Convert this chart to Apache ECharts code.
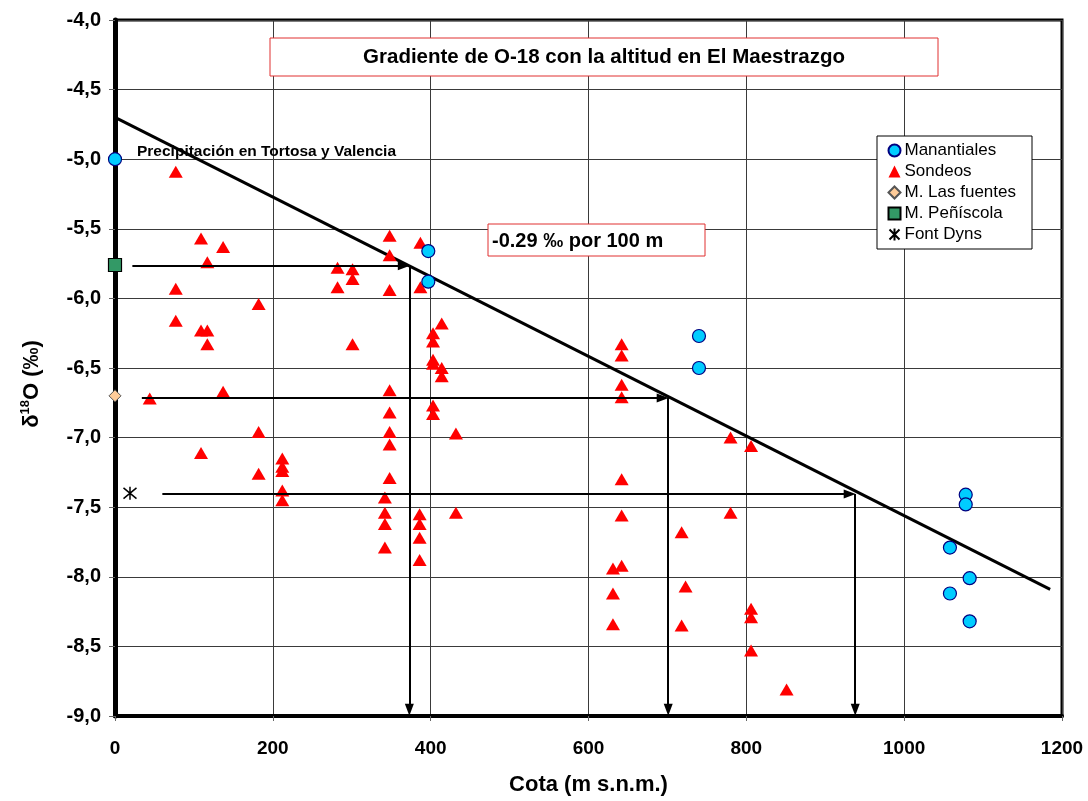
<!DOCTYPE html>
<html>
<head>
<meta charset="utf-8">
<script src="https://cdn.jsdelivr.net/npm/echarts@6/dist/echarts.min.js"></script>
<style>
html,body{margin:0;padding:0;background:#fff;}
#chart{width:1088px;height:801px;}
</style>
</head>
<body>
<div id="chart"></div>
<script>
// ---------- DATA ----------
const manantiales = [
  [0,-5.00],[397,-5.66],[397,-5.88],[740,-6.27],[740,-6.50],
  [1078,-7.41],[1078,-7.48],[1058,-7.79],[1083,-8.01],[1058,-8.12],[1083,-8.32]
];
const sondeos = [
  [77,-5.09],[109,-5.57],[137,-5.63],[117,-5.74],[77,-5.93],[182,-6.04],[77,-6.16],
  [109,-6.23],[117,-6.23],[117,-6.33],[44,-6.72],[137,-6.67],[182,-6.96],[109,-7.11],
  [182,-7.26],[212,-7.15],[212,-7.21],[212,-7.24],[212,-7.38],[212,-7.45],
  [348,-5.55],[387,-5.60],[348,-5.69],[282,-5.78],[301,-5.79],[301,-5.86],[282,-5.92],
  [348,-5.94],[387,-5.92],[414,-6.18],[403,-6.25],[403,-6.31],[301,-6.33],[403,-6.44],
  [403,-6.47],[414,-6.50],[414,-6.56],[348,-6.66],[403,-6.77],[403,-6.83],[348,-6.82],
  [348,-6.96],[432,-6.97],[348,-7.05],[348,-7.29],[342,-7.43],[342,-7.54],[342,-7.62],
  [342,-7.79],[386,-7.55],[386,-7.62],[386,-7.72],[386,-7.88],[432,-7.54],
  [642,-6.33],[642,-6.41],[642,-6.62],[642,-6.71],[780,-7.00],[806,-7.06],[642,-7.30],
  [642,-7.56],[780,-7.54],[718,-7.68],[631,-7.94],[642,-7.92],[631,-8.12],[723,-8.07],
  [806,-8.23],[806,-8.29],[631,-8.34],[718,-8.35],[806,-8.53],[851,-8.81]
];
const lasFuentes = [[0,-6.70]];
const peniscola = [[0,-5.76]];
const fontDyns = [[19,-7.40]];
const trendLine = [[0,-4.70],[1185,-8.09]];
// guide arrows: start x, level y, x where it meets the gradient line
const guideStartX = [22, 34, 60];
const guideLevelY = [-5.765, -6.715, -7.405];
const guideMeetX = [373, 701, 938];
const xTicks = [0,200,400,600,800,1000,1200];
const yTicks = [-4.0,-4.5,-5.0,-5.5,-6.0,-6.5,-7.0,-7.5,-8.0,-8.5,-9.0];

const FONT = "'Liberation Sans', Arial, sans-serif";
const chart = echarts.init(document.getElementById('chart'), null, {renderer:'canvas'});

// arrow segments
const arrowData = [];
for (let i = 0; i < guideLevelY.length; i++) {
  arrowData.push([{coord:[guideStartX[i], guideLevelY[i]]},{coord:[guideMeetX[i]-7, guideLevelY[i]]}]);
  arrowData.push([{coord:[guideMeetX[i], guideLevelY[i]]},{coord:[guideMeetX[i], yTicks[yTicks.length-1]+0.045]}]);
}

const starPath = 'path://M0,0L10,10M10,0L0,10M5,-1L5,11';

chart.setOption({
  animation:false,
  backgroundColor:'#fff',
  textStyle:{fontFamily:FONT},
  grid:{left:115,right:26,top:20,bottom:82,show:true,borderColor:'#000',borderWidth:3,backgroundColor:'transparent'},
  xAxis:{
    type:'value',min:xTicks[0],max:xTicks[xTicks.length-1],interval:200,
    axisLine:{show:true,onZero:false,lineStyle:{color:'#000',width:4}},
    axisTick:{show:true,length:5,lineStyle:{color:'#666'}},
    splitLine:{show:true,lineStyle:{color:'#3a3a3a',width:1}},
    axisLabel:{color:'#000',fontWeight:'bold',fontSize:19,margin:23,fontFamily:FONT,
      formatter:v=>String(v)},
    name:'Cota (m s.n.m.)',nameLocation:'middle',nameGap:58,
    nameTextStyle:{color:'#000',fontWeight:'bold',fontSize:22,fontFamily:FONT}
  },
  yAxis:{
    type:'value',min:yTicks[yTicks.length-1],max:yTicks[0],interval:0.5,
    axisLine:{show:true,onZero:false,lineStyle:{color:'#000',width:5}},
    axisTick:{show:true,length:6,lineStyle:{color:'#666'}},
    splitLine:{show:true,lineStyle:{color:'#3a3a3a',width:1}},
    axisLabel:{color:'#000',fontWeight:'bold',fontSize:20,margin:14,fontFamily:FONT,
      formatter:v=>v.toFixed(1).replace('.',',')}
  },
  legend:{
    orient:'vertical',left:877,top:136,
    backgroundColor:'#fff',borderColor:'#000',borderWidth:1,
    padding:[6,16,6,10],itemGap:4,itemWidth:12,itemHeight:12,
    textStyle:{color:'#000',fontSize:17,fontFamily:FONT,lineHeight:17,padding:[0,0,0,-1]},
    data:['Manantiales','Sondeos','M. Las fuentes','M. Peñíscola','Font Dyns']
  },
  graphic:[
    {type:'rect',shape:{x:270,y:38,width:668,height:38},style:{fill:'#fff',stroke:'#e03030',lineWidth:1},z:10},
    {type:'text',x:604,y:57,z:11,style:{text:'Gradiente de O-18 con la altitud en El Maestrazgo',fontFamily:FONT,fontWeight:'bold',fontSize:20.5,fill:'#000',textAlign:'center',textVerticalAlign:'middle'}},
    {type:'rect',shape:{x:488,y:224,width:217,height:32},style:{fill:'#fff',stroke:'#e03030',lineWidth:1},z:10},
    {type:'text',x:492,y:241,z:11,style:{text:'-0.29 ‰ por 100 m',fontFamily:FONT,fontWeight:'bold',fontSize:20,fill:'#000',textAlign:'left',textVerticalAlign:'middle'}},
    {type:'text',x:137,y:152,z:11,style:{text:'Precipitación en Tortosa y Valencia',fontFamily:FONT,fontWeight:'bold',fontSize:15.5,fill:'#000',textAlign:'left',textVerticalAlign:'middle'}},
    {type:'text',x:32,y:384,rotation:Math.PI/2,z:11,style:{
      text:'{a|δ}{b|18}{a|O (‰)}',textAlign:'center',textVerticalAlign:'middle',
      rich:{a:{fontFamily:FONT,fontWeight:'bold',fontSize:22,lineHeight:26,fill:'#000'},
            b:{fontFamily:FONT,fontWeight:'bold',fontSize:13,lineHeight:13,verticalAlign:'top',fill:'#000'}}}}
  ],
  series:[
    {name:'trend',type:'line',data:trendLine,symbol:'none',lineStyle:{color:'#000',width:3},z:3,silent:true},
    {name:'arrows',type:'line',data:[],silent:true,
      markLine:{silent:true,symbol:['none','triangle'],symbolSize:[9,12],label:{show:false},
        lineStyle:{color:'#000',width:2,type:'solid'},emphasis:{disabled:true},data:arrowData}},
    {name:'Sondeos',type:'scatter',data:sondeos,symbol:'triangle',symbolSize:[14,12],
      itemStyle:{color:'#ff0000',borderWidth:0,opacity:1},z:4},
    {name:'Manantiales',type:'scatter',data:manantiales,symbol:'circle',symbolSize:13,
      itemStyle:{color:'#00ccff',borderColor:'#000080',borderWidth:1.2,opacity:1},z:5},
    {name:'M. Las fuentes',type:'scatter',data:lasFuentes,symbol:'diamond',symbolSize:12,
      itemStyle:{color:'#ffcc99',borderColor:'#555',borderWidth:1,opacity:1},z:5},
    {name:'M. Peñíscola',type:'scatter',data:peniscola,symbol:'rect',symbolSize:13,
      itemStyle:{color:'#339966',borderColor:'#000',borderWidth:1.2,opacity:1},z:5},
    {name:'Font Dyns',type:'scatter',data:fontDyns,symbol:starPath,symbolSize:13,
      itemStyle:{color:'none',borderColor:'#000',borderWidth:1.5,opacity:1},z:5}
  ]
});
</script>
</body>
</html>
